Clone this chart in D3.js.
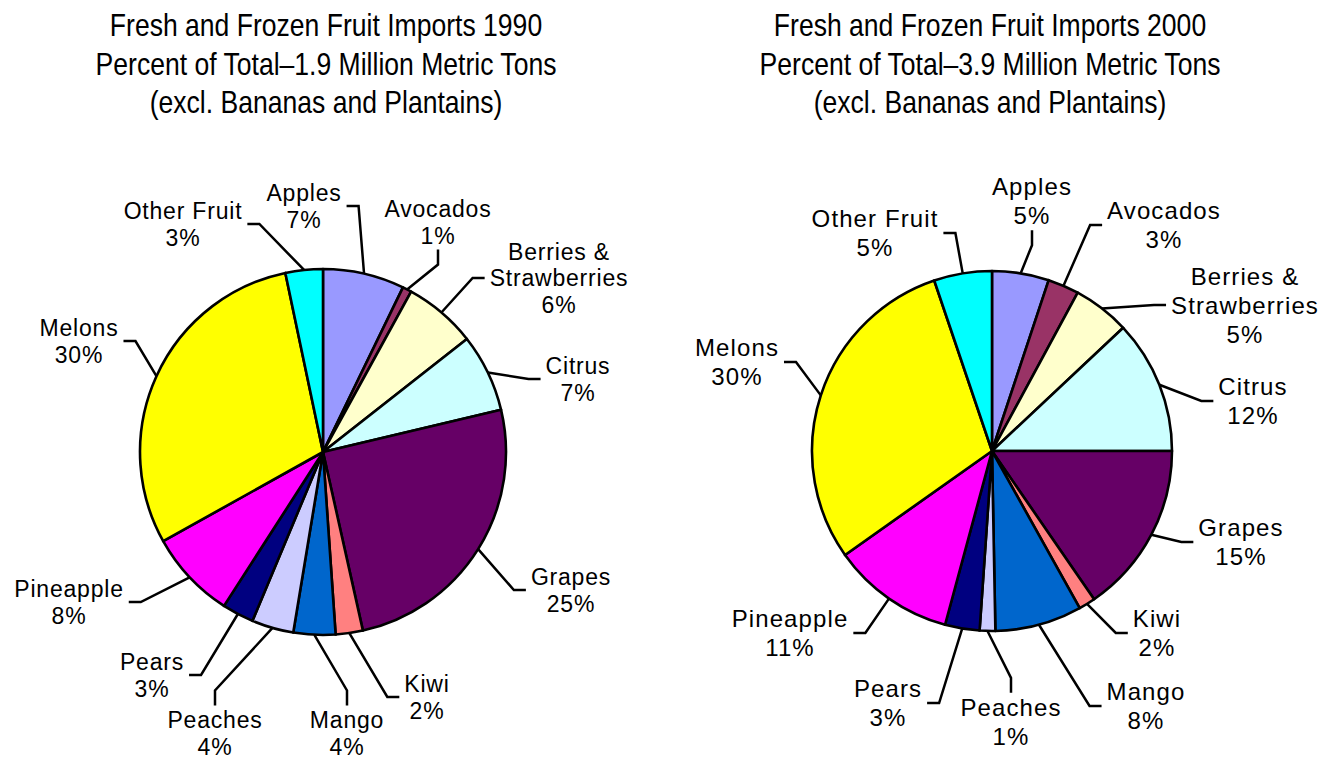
<!DOCTYPE html>
<html>
<head>
<meta charset="utf-8">
<script src="https://cdn.jsdelivr.net/npm/d3@7"></script>
<style>
  body { margin: 0; background: #fff; }
</style>
</head>
<body>
<svg id="chart"></svg>
<script>
const w = 1335;
const h = 760;

const fruits = ["Apples", "Avocados", "Berries &\nStrawberries", "Citrus", "Grapes", "Kiwi",
  "Mango", "Peaches", "Pears", "Pineapple", "Melons", "Other Fruit"];
const fruitColors = ["#9999ff", "#993366", "#ffffcc", "#ccffff", "#660066", "#ff8080",
  "#0066cc", "#ccccff", "#000080", "#ff00ff", "#ffff00", "#00ffff"];

// percent of total
const share1990 = [7.2, 0.8, 6.4, 6.9, 25.2, 2.4, 3.7, 3.7, 2.8, 7.8, 29.8, 3.3];
const share2000 = [5.1, 2.8, 5.1, 12.0, 15.4, 1.5, 7.8, 1.4, 3.1, 11.0, 29.6, 5.2];

const title1990 = ["Fresh and Frozen Fruit Imports 1990",
  "Percent of Total\u20131.9 Million Metric Tons",
  "(excl. Bananas and Plantains)"];
const title2000 = ["Fresh and Frozen Fruit Imports 2000",
  "Percent of Total\u20133.9 Million Metric Tons",
  "(excl. Bananas and Plantains)"];

// where each label sits (offset from pie centre) and which side its leader joins
const labelSpots1990 = [[-19, -246, "right"], [115, -230, "bottom"], [236, -174, "left"],
  [255, -73, "left"], [248, 138, "left"], [104, 245, "left"], [24, 281, "top"],
  [-108, 281, "top"], [-171, 223, "right"], [-254, 150, "right"], [-244, -111, "right"],
  [-140, -228, "right"]];
const labelSpots2000 = [[40, -250, "bottom"], [172, -226, "left"], [253, -146, "left"],
  [261, -50, "left"], [249, 91, "left"], [165, 182, "left"], [154, 255, "left"],
  [19, 271, "top"], [-104, 252, "right"], [-202, 182, "right"], [-255, -89, "right"],
  [-117, -218, "right"]];

const charts = [
  {values: share1990, spots: labelSpots1990, title: title1990, x: 323, y: 452, r: 183,
   titleX: 326, fs: 23, lh: 26.5, ls: 0.8},
  {values: share2000, spots: labelSpots2000, title: title2000, x: 992, y: 451, r: 180,
   titleX: 990, fs: 24, lh: 29, ls: 1.1}
];

const svg = d3.select("#chart")
  .attr("width", w)
  .attr("height", h)
  .attr("viewBox", [0, 0, w, h]);

const pie = d3.pie().sort(null).value(d => d);

for (const chart of charts) {
  drawTitle(chart);
  drawPie(chart);
}

function drawTitle(chart) {
  // condensed look: regular face squeezed sideways
  svg.append("g")
    .selectAll("text")
    .data(chart.title)
    .enter()
    .append("text")
    .attr("transform", (d, i) => `translate(${chart.titleX},${36 + i * 38.5}) scale(0.83,1)`)
    .attr("text-anchor", "middle")
    .attr("font-family", "'Liberation Sans', Arial, sans-serif")
    .attr("font-size", 32)
    .attr("fill", "#000")
    .text(d => d);
}

function drawPie(chart) {
  const arc = d3.arc().innerRadius(0).outerRadius(chart.r);
  const slices = pie(chart.values);

  const g = svg.append("g")
    .attr("transform", `translate(${chart.x},${chart.y})`);

  g.selectAll("path.slice")
    .data(slices)
    .enter()
    .append("path")
    .attr("class", "slice")
    .attr("d", arc)
    .attr("fill", (d, i) => fruitColors[i])
    .attr("stroke", "#000")
    .attr("stroke-width", 2.6)
    .attr("stroke-linejoin", "round");

  const cap = chart.fs * 0.72;

  slices.forEach((d, i) => {
    const [ox, oy, side] = chart.spots[i];
    const lines = fruits[i].split("\n").concat([Math.round(chart.values[i]) + "%"]);
    const n = lines.length;
    const firstBase = oy - ((n - 1) * chart.lh - cap) / 2;

    const label = g.append("g");
    const texts = label.selectAll("text")
      .data(lines)
      .enter()
      .append("text")
      .attr("x", ox)
      .attr("y", (t, k) => firstBase + k * chart.lh)
      .attr("text-anchor", "middle")
      .attr("font-family", "'Liberation Sans', Arial, sans-serif")
      .attr("font-size", chart.fs)
      .attr("letter-spacing", chart.ls)
      .attr("fill", "#000")
      .text(t => t);

    let halfW = 0;
    texts.each(function() {
      halfW = Math.max(halfW, this.getComputedTextLength() / 2);
    });

    // leader: from the middle of the slice's rim to an elbow beside the label
    const mid = (d.startAngle + d.endAngle) / 2;
    const p = [chart.r * Math.sin(mid), -chart.r * Math.cos(mid)];
    let a, e;
    if (side === "right") {
      a = [ox + halfW + 5, oy];
      e = [a[0] + 12, oy];
    } else if (side === "left") {
      a = [ox - halfW - 5, oy];
      e = [a[0] - 12, oy];
    } else if (side === "bottom") {
      a = [ox, firstBase + (n - 1) * chart.lh + 6];
      e = [ox, a[1] + 15];
    } else {
      a = [ox, firstBase - cap - 6];
      e = [ox, a[1] - 15];
    }

    g.append("path")
      .attr("d", d3.line()([p, e, a]))
      .attr("fill", "none")
      .attr("stroke", "#000")
      .attr("stroke-width", 2.5);
  });
}
</script>
</body>
</html>
